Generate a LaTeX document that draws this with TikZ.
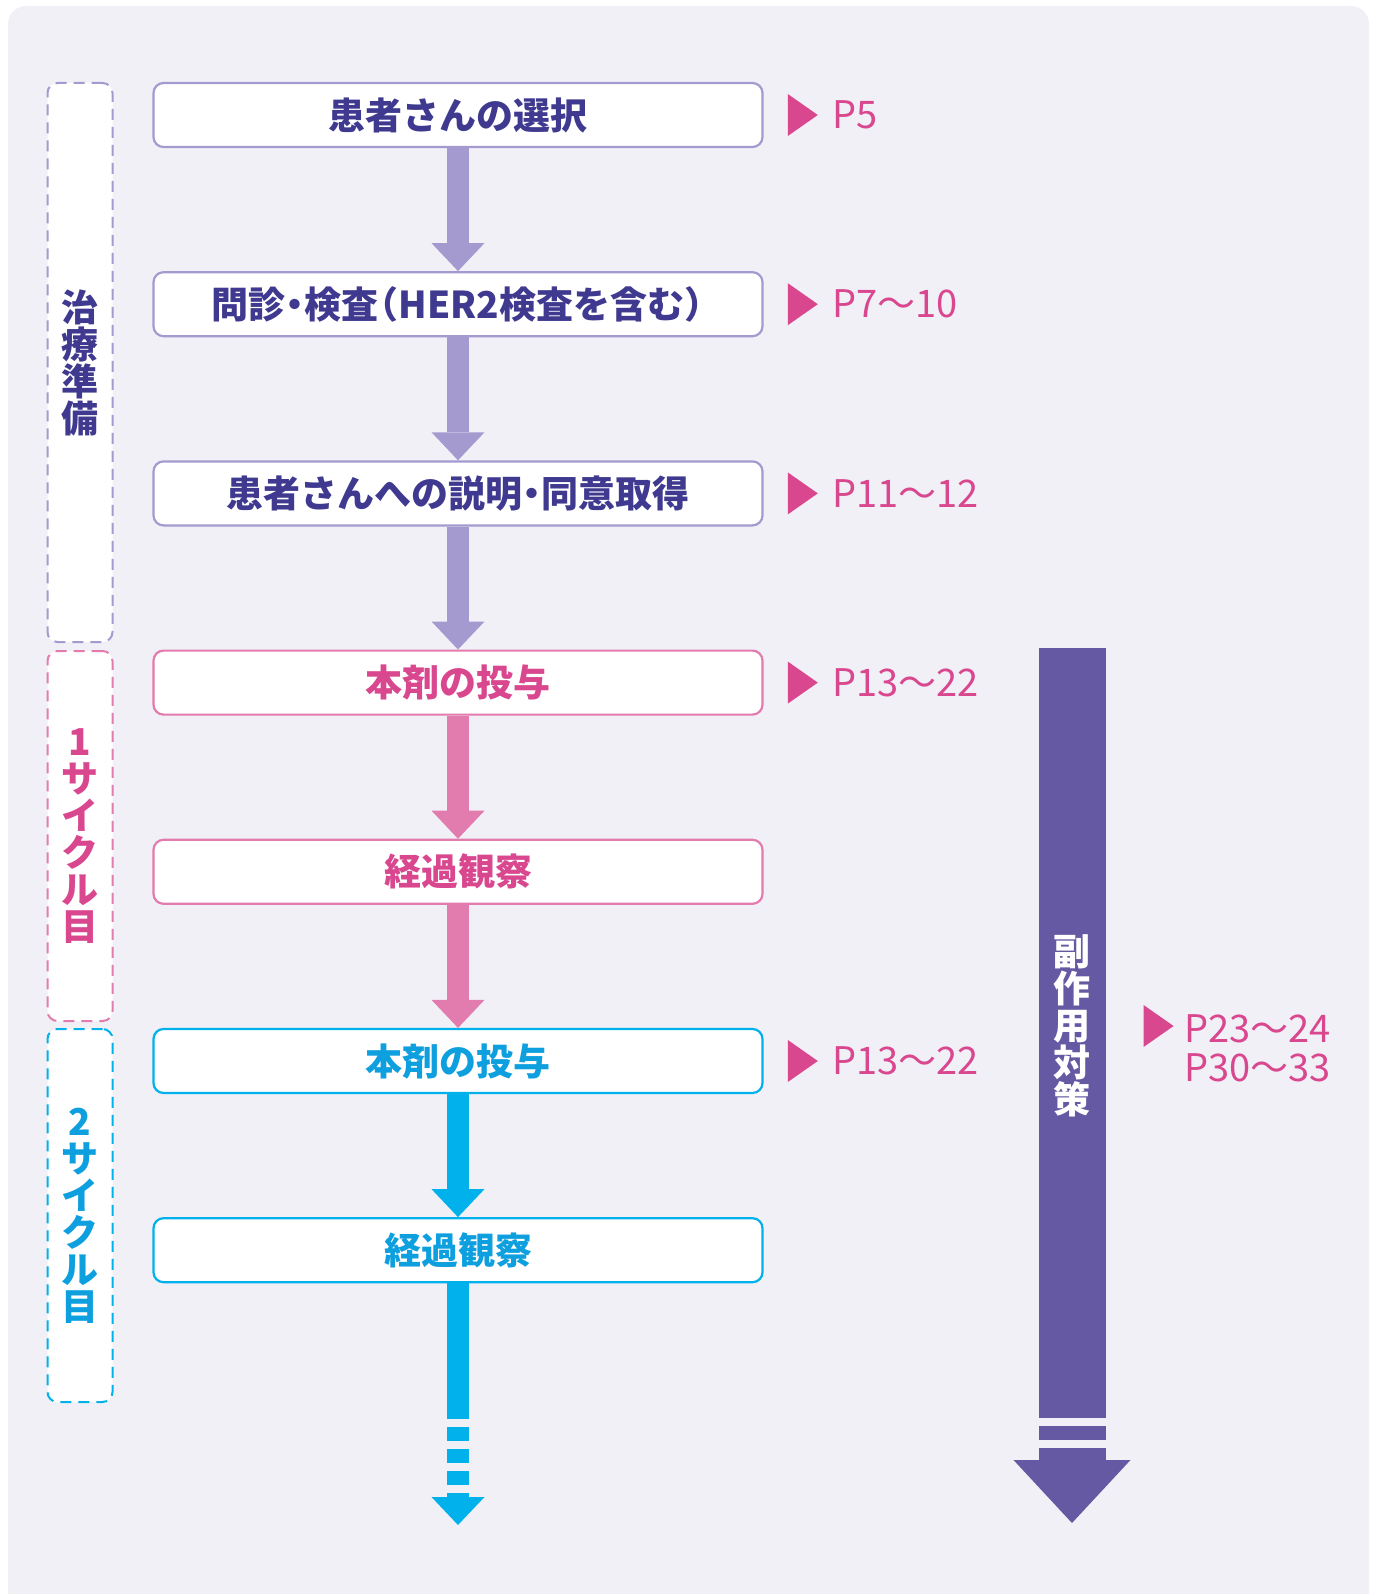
\documentclass[tikz,border=0pt]{standalone}
\usepackage{fontspec}
\newfontfamily\jp{Noto Sans CJK JP}
\usepackage{tikz}
\usetikzlibrary{positioning}
\usetikzlibrary{shapes.geometric, arrows.meta}
\definecolor{mybg}{HTML}{F1F0F7}
\definecolor{mypur1}{HTML}{A59AD0}
\definecolor{mypur2}{HTML}{3F3A8F}
\definecolor{mypur3}{HTML}{6659A3}
\definecolor{mypin1}{HTML}{E27BAE}
\definecolor{mypin2}{HTML}{D9478F}
\definecolor{myblu1}{HTML}{00B1EB}
\definecolor{myblu2}{HTML}{0E9FDF}
\newcommand{\jdot}{\kern-.25em・\kern-.25em}
\newcommand{\jlp}{\kern-.45em（}
\newcommand{\jrp}{）\kern-.45em}
\tikzstyle{box} = [rectangle, rounded corners=10pt, minimum width=609pt, minimum height=64pt, text centered, line width=2.2pt, fill=white, font=\jp\bfseries\fontsize{37}{40}\selectfont]
\tikzstyle{boxp} = [box, draw=mypur1, text=mypur2]
\tikzstyle{boxr} = [box, draw=mypin1, text=mypin2]
\tikzstyle{boxb} = [box, draw=myblu1, text=myblu2]
\tikzstyle{stage} = [rectangle, rounded corners=10pt, minimum width=65pt, line width=2pt, dash pattern=on 11pt off 7pt, fill=white, align=center, font=\jp\bfseries\fontsize{37}{37}\selectfont]
\tikzstyle{pointer} = [isosceles triangle, isosceles triangle stretches, minimum width=42pt, minimum height=30pt, inner sep=0pt, fill=mypin2]
\tikzstyle{page} = [inner sep=0pt, text=mypin2, font=\jp\fontsize{38}{39}\selectfont]
\tikzstyle{flowp} = [line width=22pt, -{Triangle[width=53pt,length=28pt,line width=0pt]}, mypur1]
\tikzstyle{flowr} = [line width=22pt, -{Triangle[width=53pt,length=28pt,line width=0pt]}, mypin1]
\tikzstyle{flowb} = [line width=22pt, -{Triangle[width=53pt,length=28pt,line width=0pt]}, myblu1]
\tikzstyle{sideflow} = [line width=67pt, -{Triangle[width=117pt,length=63pt,line width=0pt]}, mypur3]
\tikzstyle{broken} = [dash pattern=on 14pt off 8pt, dash phase=14pt]

\begin{document}
\begin{tikzpicture}[x=1pt,y=1pt,node distance=123pt]
	\useasboundingbox (0,0) rectangle (1375,-1594);
	\fill [mybg, rounded corners=18pt] (8,-6) rectangle (1369,-1630);
	% phases on the left
	\node (prep) [stage, draw=mypur1, text=mypur2, minimum height=559pt] at (80,-362.5) {治\\療\\準\\備};
	\node (cyca) [stage, draw=mypin1, text=mypin2, minimum height=370pt] at (80,-836) {1\\サ\\イ\\ク\\ル\\目};
	\node (cycb) [stage, draw=myblu1, text=myblu2, minimum height=373pt] at (80,-1215.5) {2\\サ\\イ\\ク\\ル\\目};
	% steps
	\node (select) [boxp] at (458,-115) {患者さんの選択};
	\node (exam) [boxp, below=of select] {問診\jdot 検査\jlp HER2検査を含む\jrp};
	\node (consent) [boxp, below=of exam] {患者さんへの説明\jdot 同意取得};
	\node (dosea) [boxr, below=of consent] {本剤の投与};
	\node (obsa) [boxr, below=of dosea] {経過観察};
	\node (doseb) [boxb, below=of obsa] {本剤の投与};
	\node (obsb) [boxb, below=of doseb] {経過観察};
	% page references
	\node (m1) [pointer, right=24pt of select] {};
	\node (p1) [page, right=14pt of m1] {P5};
	\node (m2) [pointer, right=24pt of exam] {};
	\node (p2) [page, right=14pt of m2] {P7〜10};
	\node (m3) [pointer, right=24pt of consent] {};
	\node (p3) [page, right=14pt of m3] {P11〜12};
	\node (m4) [pointer, right=24pt of dosea] {};
	\node (p4) [page, right=14pt of m4] {P13〜22};
	\node (m6) [pointer, right=24pt of doseb] {};
	\node (p6) [page, right=14pt of m6] {P13〜22};
	% side effects
	\coordinate (sidetop) at (1072,-648);
	\coordinate (sidecut) at (1072,-1418);
	\coordinate (sideend) at (1072,-1523);
	\draw [sideflow, -] (sidetop) -- (sidecut);
	\draw [sideflow, broken] (sidecut) -- (sideend);
	\node (sidefx) [text=white, align=center, font=\jp\bfseries\fontsize{37}{37}\selectfont] at (1072,-1026) {副\\作\\用\\対\\策};
	\node (mside) [pointer] at (1154.5,-1026) {};
	\node (pside) [page, align=left, right=10pt of mside, anchor=north west, yshift=12pt] {P23〜24\\P30〜33};
	% arrows
	\coordinate (cutb) at (458,-1419);
	\coordinate (endb) at (458,-1525);
	\draw [flowp] (select) -- (exam);
	\draw [flowp] (exam) -- (consent);
	\draw [flowp] (consent) -- (dosea);
	\draw [flowr] (dosea) -- (obsa);
	\draw [flowr] (obsa) -- (doseb);
	\draw [flowb] (doseb) -- (obsb);
	\draw [flowb, -] (obsb) -- (cutb);
	\draw [flowb, broken] (cutb) -- (endb);
\end{tikzpicture}
\end{document}
